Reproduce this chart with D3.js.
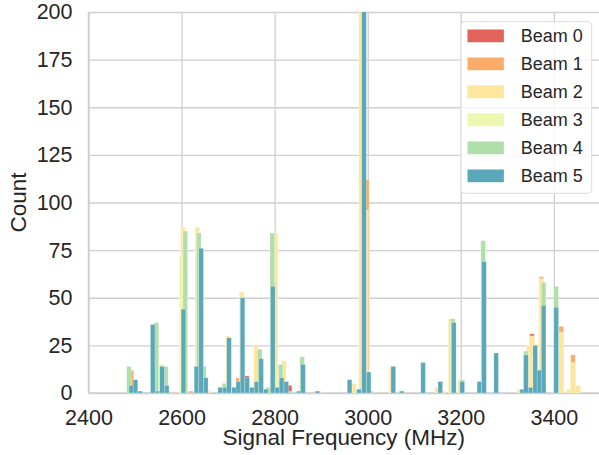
<!DOCTYPE html>
<html>
<head>
<meta charset="utf-8">
<script src="https://cdn.jsdelivr.net/npm/d3@7"></script>
<style>
  html, body { margin: 0; padding: 0; background: #fff; }
  svg { display: block; }
  text { font-family: "Liberation Sans", Arial, sans-serif; fill: #262626; }
</style>
</head>
<body>
<svg id="chart" width="599" height="455"></svg>
<script>
// Histogram of detected signal frequencies, one layer per beam.
const beamNames = ["Beam 0", "Beam 1", "Beam 2", "Beam 3", "Beam 4", "Beam 5"];
const beamColors = ["#e2625c", "#fdab69", "#fee69c", "#edf7b0", "#b0dfab", "#5aa8b9"];
const binWidth = 10; // MHz

// [bin start (MHz), count]
const beam0 = [[2483, 11], [2735, 9], [2827, 4], [3348, 31]];
const beam1 = [[2487, 12], [2615, 1], [2717, 8], [2993, 112], [3368, 61], [3411, 35], [3436, 20]];
const beam2 = [[2553, 15], [2598, 87], [2629, 87], [2652, 1], [2695, 30], [2724, 53], [2755, 25],
  [2797, 84], [2815, 17], [2890, 1], [2965, 5], [2981, 240], [2991, 96], [3046, 14], [3144, 3],
  [3157, 1], [3173, 39], [3194, 7], [3321, 2], [3341, 25], [3348, 30], [3368, 60], [3411, 32],
  [3427, 2], [3436, 16], [3447, 4]];
const beam3 = [[2595, 72], [3355, 26]];
const beam4 = [[2482, 14], [2541, 37], [2561, 14], [2603, 85], [2632, 84], [2643, 14], [2687, 5],
  [2763, 23], [2781, 3], [2790, 84], [2808, 15], [2829, 1], [2854, 19], [3003, 1], [3178, 39],
  [3198, 7], [3243, 80], [3335, 22], [3373, 58], [3400, 56]];
const beam5 = [[2487, 4], [2496, 7], [2506, 1], [2533, 36], [2543, 1], [2553, 14], [2563, 4],
  [2599, 44], [2627, 14], [2637, 76], [2647, 8], [2678, 3], [2688, 3], [2697, 29], [2708, 3],
  [2717, 6], [2726, 50], [2736, 8], [2746, 3], [2756, 6], [2766, 18], [2776, 2], [2791, 56],
  [2801, 3], [2810, 8], [2820, 6], [2847, 1], [2856, 15], [2887, 1], [2956, 7], [2976, 2],
  [2987, 260], [2997, 11], [3050, 14], [3068, 1], [3114, 16], [3151, 6], [3180, 37], [3198, 6],
  [3235, 6], [3245, 69], [3271, 21], [3327, 2], [3335, 20], [3345, 3], [3355, 25], [3364, 12],
  [3373, 46], [3400, 45]];
const beams = [beam0, beam1, beam2, beam3, beam4, beam5];

const xTicks = [2400, 2600, 2800, 3000, 3200, 3400];
const yTicks = [0, 25, 50, 75, 100, 125, 150, 175, 200];

const plot = { left: 88.5, right: 599, top: 12, bottom: 393 };
const svg = d3.select("#chart");

const x = d3.scaleLinear().domain([2400, 3497]).range([plot.left, plot.right]);
const y = d3.scaleLinear().domain([0, 200]).range([plot.bottom, plot.top]);

svg.append("defs").append("clipPath").attr("id", "plot-clip")
  .append("rect")
  .attr("x", plot.left).attr("y", plot.top)
  .attr("width", plot.right - plot.left).attr("height", plot.bottom - plot.top);

// grid
const gridColor = "#cfcfcf";
svg.append("g")
  .attr("transform", `translate(0,${plot.bottom})`)
  .call(d3.axisBottom(x).tickValues(xTicks).tickSize(-(plot.bottom - plot.top)).tickFormat(""))
  .call(g => g.select(".domain").remove())
  .call(g => g.selectAll("line").attr("stroke", gridColor).attr("stroke-width", 1.3));
svg.append("g")
  .attr("transform", `translate(${plot.left},0)`)
  .call(d3.axisLeft(y).tickValues(yTicks).tickSize(-(plot.right - plot.left)).tickFormat(""))
  .call(g => g.select(".domain").remove())
  .call(g => g.selectAll("line").attr("stroke", gridColor).attr("stroke-width", 1.3));

// spines
svg.append("line").attr("x1", plot.left).attr("x2", plot.left)
  .attr("y1", plot.top).attr("y2", plot.bottom).attr("stroke", gridColor).attr("stroke-width", 1.5);
svg.append("line").attr("x1", plot.left).attr("x2", plot.right)
  .attr("y1", plot.bottom).attr("y2", plot.bottom).attr("stroke", gridColor).attr("stroke-width", 1.5);

// bars, layered beam by beam
const barLayer = svg.append("g").attr("clip-path", "url(#plot-clip)");
beams.forEach((data, i) => {
  barLayer.append("g")
    .selectAll("rect")
    .data(data)
    .join("rect")
    .attr("x", d => x(d[0]))
    .attr("width", d => x(d[0] + binWidth) - x(d[0]))
    .attr("y", d => y(d[1]))
    .attr("height", d => y(0) - y(d[1]))
    .attr("fill", beamColors[i])
    .attr("stroke", "#ffffff")
    .attr("stroke-opacity", 0.45)
    .attr("stroke-width", 0.6);
});

// tick labels
const tickFont = "21.5px";
svg.append("g")
  .attr("transform", `translate(0,${plot.bottom})`)
  .call(d3.axisBottom(x).tickValues(xTicks).tickSize(0).tickPadding(16.5).tickFormat(d3.format("d")))
  .call(g => g.select(".domain").remove())
  .call(g => g.selectAll("text").attr("font-size", tickFont)
    .attr("font-family", "Liberation Sans, Arial, sans-serif").attr("fill", "#262626"));
svg.append("g")
  .attr("transform", `translate(${plot.left},0)`)
  .call(d3.axisLeft(y).tickValues(yTicks).tickSize(0).tickPadding(16).tickFormat(d3.format("d")))
  .call(g => g.select(".domain").remove())
  .call(g => g.selectAll("text").attr("font-size", tickFont)
    .attr("font-family", "Liberation Sans, Arial, sans-serif").attr("fill", "#262626"));

// axis titles
svg.append("text")
  .attr("x", (plot.left + plot.right) / 2).attr("y", 445)
  .attr("text-anchor", "middle").attr("font-size", "22.5px")
  .text("Signal Frequency (MHz)");
svg.append("text")
  .attr("transform", `translate(25.5,${(plot.top + plot.bottom) / 2}) rotate(-90)`)
  .attr("text-anchor", "middle").attr("font-size", "22.5px")
  .text("Count");

// legend
const legend = svg.append("g").attr("transform", "translate(461,21.7)");
legend.append("rect")
  .attr("width", 130.7).attr("height", 171.6).attr("rx", 3.5)
  .attr("fill", "#ffffff").attr("fill-opacity", 0.8)
  .attr("stroke", "#dddddd").attr("stroke-width", 1);
const items = legend.selectAll("g.item")
  .data(beamNames)
  .join("g").attr("class", "item")
  .attr("transform", (d, i) => `translate(6.3,${7.6 + i * 28})`);
items.append("rect")
  .attr("width", 36.7).attr("height", 13)
  .attr("fill", (d, i) => beamColors[i])
  .attr("stroke", "#ffffff").attr("stroke-opacity", 0.45).attr("stroke-width", 0.6);
items.append("text")
  .attr("x", 53.4).attr("y", 13)
  .attr("font-size", "18px")
  .text(d => d);
</script>
</body>
</html>
